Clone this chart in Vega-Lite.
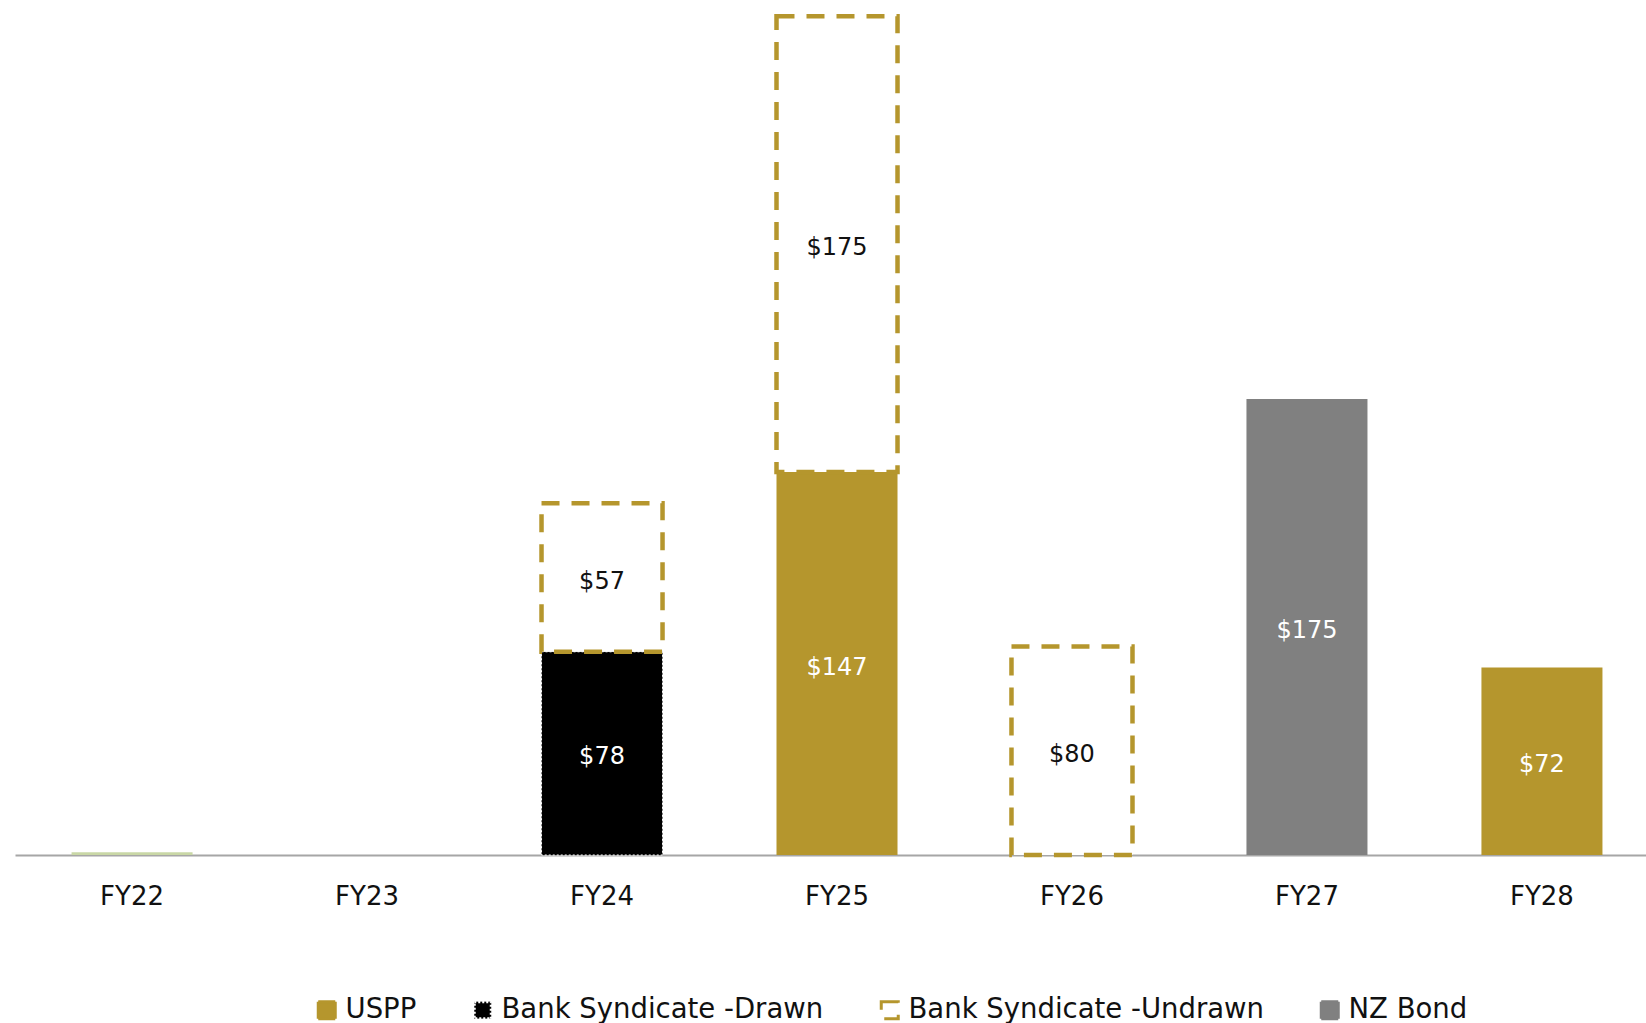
{
  "$schema": "https://vega.github.io/schema/vega-lite/v6.json",
  "width": 1631,
  "height": 855,
  "autosize": {"type": "none"},
  "padding": {"left": 15, "top": 0, "right": 0, "bottom": 168},
  "background": "white",
  "data": {
    "values": [
      {"fy": "FY22", "series": "Other", "k": 0, "value": 1.1},
      {"fy": "FY24", "series": "Bank Syndicate -Drawn", "k": 2, "value": 78},
      {"fy": "FY24", "series": "Bank Syndicate -Undrawn", "k": 3, "value": 57},
      {"fy": "FY25", "series": "USPP", "k": 1, "value": 147},
      {"fy": "FY25", "series": "Bank Syndicate -Undrawn", "k": 3, "value": 175},
      {"fy": "FY26", "series": "Bank Syndicate -Undrawn", "k": 3, "value": 80},
      {"fy": "FY27", "series": "NZ Bond", "k": 4, "value": 175},
      {"fy": "FY28", "series": "USPP", "k": 1, "value": 72}
    ]
  },
  "transform": [
    {"stack": "value", "groupby": ["fy"], "sort": [{"field": "k", "order": "ascending"}], "as": ["v0", "v1"]},
    {"calculate": "(datum.v0 + datum.v1) / 2", "as": "mid"}
  ],
  "layer": [
    {
      "mark": {"type": "bar", "cornerRadius": 0},
      "encoding": {
        "x": {
          "field": "fy", "type": "nominal",
          "scale": {"domain": ["FY22", "FY23", "FY24", "FY25", "FY26", "FY27", "FY28"], "paddingInner": 0.485, "paddingOuter": 0.213, "align": 0.565},
          "axis": {"title": null, "labelAngle": 0, "ticks": false, "labelPadding": 41, "labelBaseline": "middle", "labelFontSize": 26, "labelColor": "#111111", "domainColor": "#a6a6a6", "domainWidth": 2, "labelFont": "DejaVu Sans"}
        },
        "y": {"field": "v1", "type": "quantitative", "scale": {"domain": [0, 328.2], "nice": false, "zero": true}, "axis": null},
        "y2": {"field": "v0"},
        "fill": {
          "field": "series", "type": "nominal",
          "scale": {"domain": ["USPP", "Bank Syndicate -Drawn", "Bank Syndicate -Undrawn", "NZ Bond", "Other"], "range": ["#b5962d", "#000000", "#ffffff", "#808080", "#c9d7a6"]},
          "legend": {"values": ["USPP", "Bank Syndicate -Drawn", "Bank Syndicate -Undrawn", "NZ Bond"], "title": null}
        },
        "stroke": {
          "field": "series", "type": "nominal",
          "scale": {"domain": ["USPP", "Bank Syndicate -Drawn", "Bank Syndicate -Undrawn", "NZ Bond", "Other"], "range": ["#b5962d", "#ffffff", "#b5962d", "#808080", "#c9d7a6"]},
          "legend": {"values": ["USPP", "Bank Syndicate -Drawn", "Bank Syndicate -Undrawn", "NZ Bond"], "title": null}
        },
        "strokeDash": {
          "field": "series", "type": "nominal",
          "scale": {"domain": ["USPP", "Bank Syndicate -Drawn", "Bank Syndicate -Undrawn", "NZ Bond", "Other"], "range": [[1, 0], [2, 2], [18, 12], [1, 0], [1, 0]]},
          "legend": {"values": ["USPP", "Bank Syndicate -Drawn", "Bank Syndicate -Undrawn", "NZ Bond"], "title": null}
        },
        "strokeWidth": {
          "condition": [
            {"test": "datum.series === 'Bank Syndicate -Undrawn'", "value": 4.5},
            {"test": "datum.series === 'Bank Syndicate -Drawn'", "value": 1}
          ],
          "value": 0
        }
      }
    },
    {
      "transform": [{"filter": "datum.series !== 'Other'"}],
      "mark": {"type": "text", "font": "DejaVu Sans", "fontSize": 24, "baseline": "middle", "align": "center", "dy": 4},
      "encoding": {
        "x": {"field": "fy", "type": "nominal"},
        "y": {"field": "mid", "type": "quantitative"},
        "text": {"field": "value", "type": "quantitative", "format": "$.0f"},
        "color": {"condition": {"test": "datum.series === 'Bank Syndicate -Undrawn'", "value": "#111111"}, "value": "#ffffff"}
      }
    }
  ],
  "config": {
    "view": {"stroke": null},
    "legend": {
      "orient": "none",
      "legendX": 298,
      "legendY": 996,
      "direction": "horizontal",
      "columnPadding": 51,
      "padding": 0,
      "symbolType": "square",
      "symbolSize": 289,
      "symbolStrokeWidth": 3,
      "labelOffset": 5,
      "labelFontSize": 27.5,
      "labelFont": "DejaVu Sans",
      "labelColor": "#111111",
      "labelLimit": 500
    }
  }
}
